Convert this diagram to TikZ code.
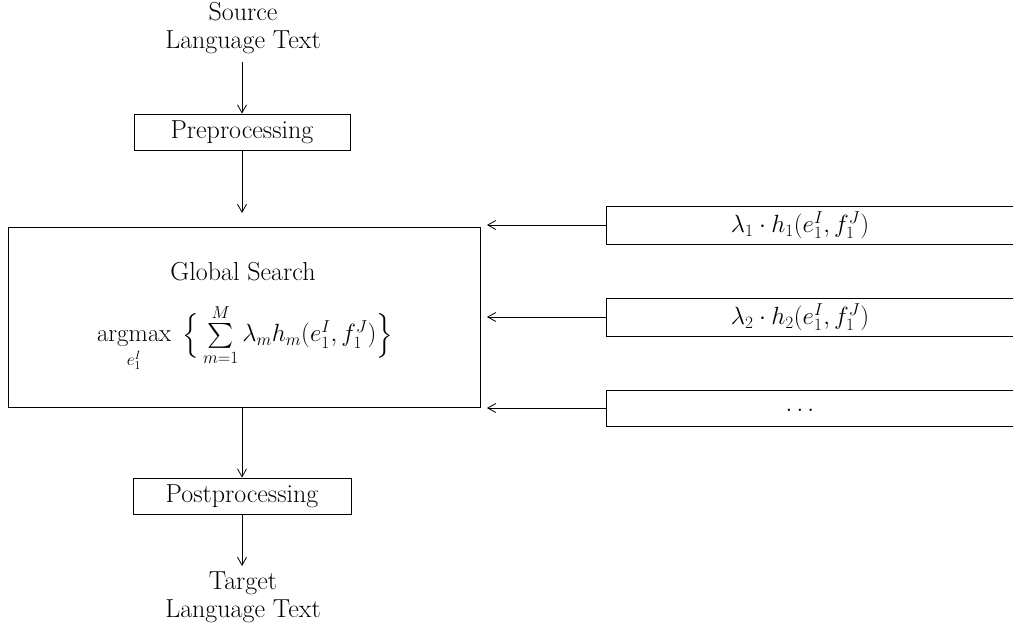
\documentclass[tikz,border=0pt]{standalone}
\usepackage{amsmath}
\usetikzlibrary{arrows.meta}
\tikzset{
  boxstyle/.style={draw, line width=0.8pt, inner sep=0pt},
  conn/.style={line width=0.8pt, -{Straight Barb[length=8pt,width=9pt,line width=0.8pt]}},
  lbl/.style={inner sep=0pt, align=center, font=\fontsize{26}{28}\selectfont},
  mlbl/.style={inner sep=0pt, align=center, font=\fontsize{25}{28}\selectfont},
}
\begin{document}
\begin{tikzpicture}[x=1pt, y=-1pt]
\useasboundingbox (0,0) rectangle (1013,626);
% left column
\node[lbl] (src) at (243,28) {Source\\Language Text};
\node[boxstyle, lbl, minimum width=216pt, minimum height=36pt] (pre) at (242,132) {Preprocessing};
\coordinate (gsin) at (242,213);
\node[boxstyle, minimum width=472pt, minimum height=180pt] (gs) at (244,317) {};
\node[lbl] (gstitle) at (243,272) {Global Search};
\node[mlbl] (formula) at (245,338) {$\operatorname*{argmax}\limits_{e_1^I}\;\Big\{\sum\limits_{m=1}^{M}\lambda_m h_m(e_1^I,f_1^J)\Big\}$};
\node[boxstyle, lbl, minimum width=218pt, minimum height=36pt] (post) at (242,496) {Postprocessing};
\coordinate (tgtin) at (242,566);
\node[lbl] (tgt) at (243,597) {Target\\Language Text};
% right feature boxes
\node[boxstyle, minimum width=420pt, minimum height=38pt, anchor=west] (f1) at (606,225) {};
\node[mlbl] (f1t) at (800,225) {$\lambda_1\cdot h_1(e_1^I,f_1^J)$};
\node[boxstyle, minimum width=420pt, minimum height=38pt, anchor=west] (f2) at (606,317) {};
\node[mlbl] (f2t) at (800,317) {$\lambda_2\cdot h_2(e_1^I,f_1^J)$};
\node[boxstyle, minimum width=420pt, minimum height=36pt, anchor=west] (f3) at (606,408) {};
\node[mlbl] (f3t) at (802,410) {$\dots$};
\coordinate (in1) at (487,225);
\coordinate (in2) at (487,317);
\coordinate (in3) at (487,408);
% connectors
\draw[conn, shorten <=8pt] (src.south -| pre.north) -- (pre.north);
\draw[conn] (pre.south) -- (gsin);
\draw[conn] (gs.south -| post.north) -- (post.north);
\draw[conn] (post.south) -- (tgtin);
\draw[conn] (f1.west) -- (in1);
\draw[conn] (f2.west) -- (in2);
\draw[conn] (f3.west) -- (in3);
\end{tikzpicture}
\end{document}
